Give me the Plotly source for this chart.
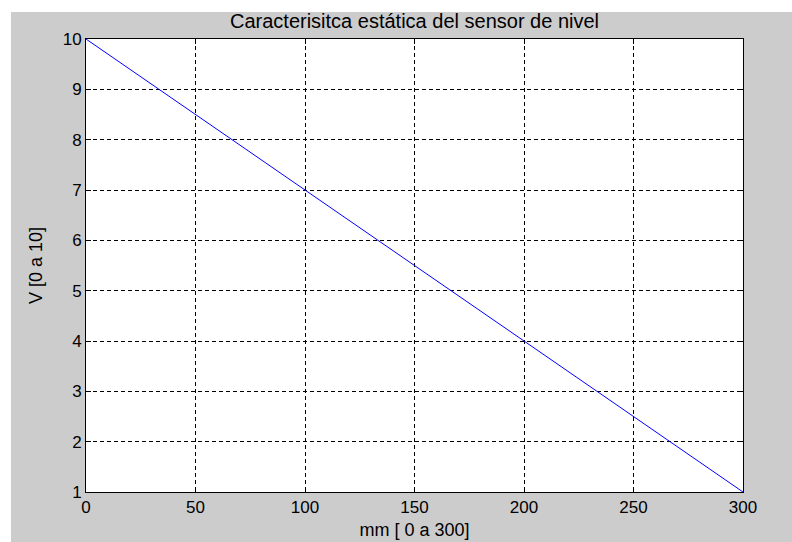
import plotly.graph_objects as go

x_mm = [0, 50, 100, 150, 200, 250, 300]
v_out = [10, 8.5, 7, 5.5, 4, 2.5, 1]
x_ticks = [0, 50, 100, 150, 200, 250, 300]
y_ticks = [1, 2, 3, 4, 5, 6, 7, 8, 9, 10]

W, H = 792, 542
L, R, T, B = 86, 49, 39, 50
pw, ph = W - L - R, H - T - B

def px(x):
    return (x - L) / pw

def py(y):
    return (H - B - y) / ph

fam = "Liberation Sans, Arial, sans-serif"
tick_font = dict(family=fam, size=17, color="#000000")
lab_font = dict(family=fam, size=18, color="#000000")
title_font = dict(family=fam, size=20, color="#000000")

fig = go.Figure()
fig.add_trace(go.Scatter(x=x_mm, y=v_out, mode="lines",
                         line=dict(color="#0000ff", width=1), showlegend=False))

axis_common = dict(showline=True, linecolor="#000000", linewidth=1, mirror="allticks",
                   ticks="inside", ticklen=5, tickcolor="#000000",
                   showgrid=True, gridcolor="#000000", gridwidth=1, griddash="4px,3px",
                   zeroline=False, tickfont=tick_font, automargin=False)

fig.update_xaxes(range=[0, 300], tickvals=x_ticks,
                 title=dict(text="mm [ 0 a 300]", font=lab_font, standoff=6), **axis_common)
fig.update_yaxes(range=[1, 10], tickvals=y_ticks,
                 title=dict(text="V [0 a 10]", font=lab_font, standoff=15), **axis_common)

fig.update_layout(
    width=W, height=H,
    margin=dict(l=L, r=R, t=T, b=B, autoexpand=False),
    paper_bgcolor="#cccccc", plot_bgcolor="#ffffff",
    font=tick_font,
    title=dict(text="Caracterisitca estática del sensor de nivel", xref="paper", x=0.5,
               xanchor="center", y=1 - 21 / H, yanchor="middle", font=title_font),
    shapes=[
        dict(type="rect", xref="paper", yref="paper", x0=px(0), x1=px(11), y0=py(H), y1=py(0),
             fillcolor="#ffffff", line=dict(width=0), layer="above"),
        dict(type="rect", xref="paper", yref="paper", x0=px(0), x1=px(W), y0=py(12), y1=py(0),
             fillcolor="#ffffff", line=dict(width=0), layer="above"),
    ],
)

fig.write_html("out.html")
